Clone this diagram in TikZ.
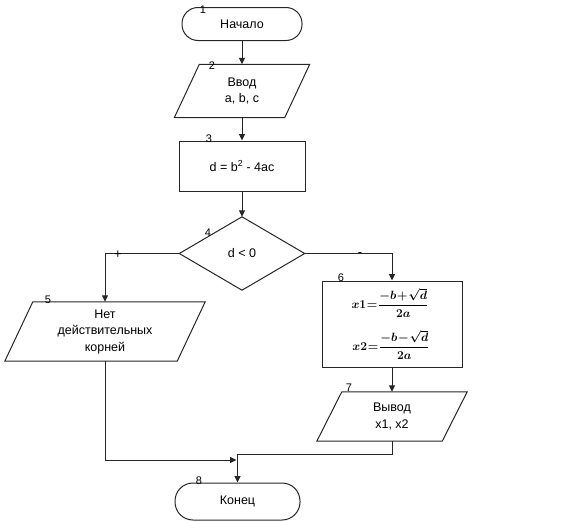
\documentclass[tikz,border=0pt]{standalone}
\usepackage{fontspec}
\setmainfont{Liberation Sans}
\usetikzlibrary{arrows.meta}
\newcommand{\iopar}[2]{\draw[ln] ([xshift=-#2]#1.south west) -- ([xshift=-#2]#1.south east) -- ([xshift=#2]#1.north east) -- ([xshift=#2]#1.north west) -- cycle;}
\newsavebox{\fbone}
\newsavebox{\fbtwo}
\begin{document}
\sbox{\fbone}{\fontsize{13}{15}\selectfont\boldmath\thickmuskip=1mu\medmuskip=1mu$\displaystyle x1=\frac{-b+\sqrt{d}}{2a}$}%
\sbox{\fbtwo}{\fontsize{13}{15}\selectfont\boldmath\thickmuskip=1mu\medmuskip=1mu$\displaystyle x2=\frac{-b-\sqrt{d}}{2a}$}%
\begin{tikzpicture}[x=1pt,y=-1pt,
  ln/.style={line width=1pt, draw=black!85},
  arr/.style={ln, -{Triangle[length=6.5pt,width=6pt]}},
  txt/.style={font=\fontsize{12.5}{16.5}\selectfont, align=center, inner sep=0pt},
  term/.style={txt, ln, rounded corners=16pt, minimum width=120pt, minimum height=33pt},
  box/.style={txt, ln, minimum width=126pt, minimum height=50pt},
  iobox/.style={txt},
  frm/.style={inner sep=0pt},
  lbl/.style={font=\fontsize{11}{12}\selectfont, inner sep=0pt}]
\useasboundingbox (0,0) rectangle (565,522);
% nodes
\node[term] (n1) at (242,24) {Начало};
\node[iobox, minimum width=110pt, minimum height=53pt] (n2) at (242,91) {Ввод\\a, b, c};
\iopar{n2}{12.5pt}
\node[box] (n3) at (242,166) {d = b\textsuperscript{2} - 4ac};
\node[txt, minimum width=125pt, minimum height=73pt] (n4) at (242,253.5) {d < 0};
\draw[ln] (n4.north) -- (n4.east) -- (n4.south) -- (n4.west) -- cycle;
\node[iobox, minimum width=172pt, minimum height=59pt] (n5) at (105,331.5) {Нет\\действительных\\корней};
\iopar{n5}{14pt}
\node[box, minimum width=140pt, minimum height=86pt] (n6) at (392,324) {};
\node[frm] (f1) at (390,303) {\usebox{\fbone}};
\node[frm] (f2) at (391,345) {\usebox{\fbtwo}};
\node[iobox, minimum width=125pt, minimum height=49pt] (n7) at (392,416.5) {Вывод\\x1, x2};
\iopar{n7}{12.5pt}
\node[term, minimum width=125pt, minimum height=37pt, rounded corners=18pt] (n8) at (237.5,501.5) {Конец};
% number labels
\node[lbl] (l1) at (203,10) {1};
\node[lbl] (l2) at (212,66) {2};
\node[lbl] (l3) at (209,139) {3};
\node[lbl] (l4) at (208,233) {4};
\node[lbl] (l5) at (48,300) {5};
\node[lbl] (l6) at (341,278) {6};
\node[lbl] (l7) at (349,388) {7};
\node[lbl] (l8) at (199,481) {8};
% connectors
\draw[arr] (n1.south) -- (n2.north);
\draw[arr] (n2.south) -- (n3.north);
\draw[arr] (n3.south) -- (n4.north);
\draw[arr] (n4.west) -| (n5.north);
\draw[arr] (n4.east) -| (n6.north);
\draw[arr] (n6.south) -- (n7.north);
\node[lbl, font=\fontsize{13}{13}\selectfont] (plus) at (118,254.5) {+};
\node[lbl, font=\fontsize{13}{13}\selectfont] (minus) at (360,254.5) {-};
\coordinate (jl) at (236.5,460);
\coordinate (jr) at (237.5,454);
\draw[arr] (n5.south) |- (jl);
\draw[ln] (n7.south) |- (jr);
\draw[arr] (jr) -- (n8.north);
\end{tikzpicture}
\end{document}
